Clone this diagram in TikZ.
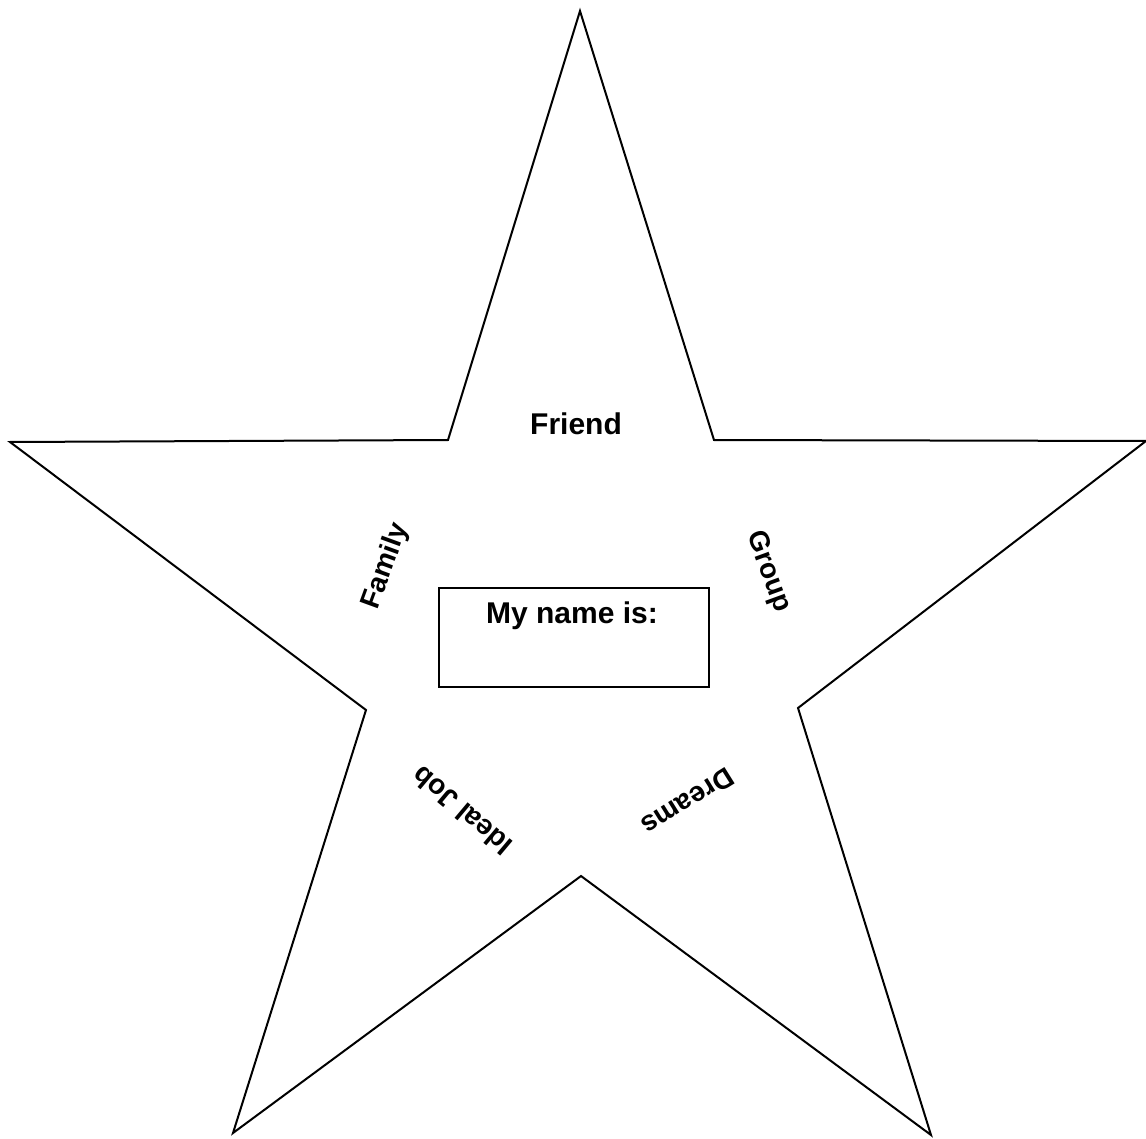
\documentclass[tikz,border=0pt]{standalone}
\usepackage{fontspec}
\setmainfont{Liberation Sans}
\usepackage{tikz}
\usetikzlibrary{shapes,arrows}

\begin{document}
\begin{tikzpicture}[x=1pt, y=-1pt,
			stern/.style={draw, line width=2pt, line join=miter},
			feld/.style={font=\fontsize{30}{36}\selectfont\bfseries, inner sep=0pt},
			schraeg/.style={font=\fontsize{28}{34}\selectfont\bfseries, inner sep=0pt, rotate=#1},
			namebox/.style={draw, line width=2pt, minimum width=270pt, minimum height=99pt, inner sep=0pt}]
			%Bildbereich
			\useasboundingbox (0,0) rectangle (1146,1139);
			%Stern zeichnen
			\draw[stern] (580,11) -- (714,440) -- (1146,441) -- (798,708) -- (931,1135)
				-- (581,876) -- (233,1133) -- (366,710) -- (10,442) -- (448,440) -- cycle;
			%Namensfeld
			\node[namebox] (name) at (574,637.5) {};
			\node[feld, anchor=base] (nametext) at (572,623) {My name is:};
			%Beschriftung
			\node[feld, anchor=base] (friend) at (576,435) {Friend};
			\node[schraeg=70] (family) at (386,566) {Family};
			\node[schraeg=-70] (group) at (768,572) {Group};
			\node[schraeg=140] (idealjob) at (462,811) {Ideal Job};
			\node[schraeg=212] (dreams) at (688,802) {Dreams};
		\end{tikzpicture}
\end{document}
